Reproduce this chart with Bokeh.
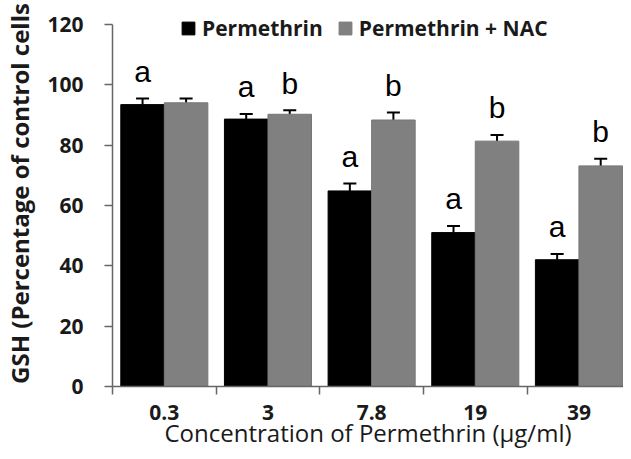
from bokeh.plotting import figure
from bokeh.models import ColumnDataSource, Range1d, FixedTicker, Whisker, TeeHead, Legend, LegendItem
from bokeh.core.properties import value
from bokeh.embed import file_html
from bokeh.resources import INLINE

concentrations = ["0.3", "3", "7.8", "19", "39"]
perm_mean = [93.4, 88.6, 64.8, 51.0, 42.0]
perm_err = [2.0, 1.7, 2.5, 2.2, 1.9]
nac_mean = [94.0, 90.2, 88.3, 81.3, 73.1]
nac_err = [1.4, 1.3, 2.5, 2.0, 2.4]
perm_letters = ["a", "a", "a", "a", "a"]
nac_letters = ["", "b", "b", "b", "b"]

FONT = "Open Sans"
BAR_W = 0.42
LETTER_GAP = 9.0

idx = list(range(len(concentrations)))
centers = [i + 0.5 for i in idx]
x_perm = [c - BAR_W / 2 for c in centers]
x_nac = [c + BAR_W / 2 for c in centers]

src_p = ColumnDataSource(dict(
    x=x_perm, top=perm_mean, upper=[m + e for m, e in zip(perm_mean, perm_err)],
    ty=[m + e + LETTER_GAP for m, e in zip(perm_mean, perm_err)], lab=perm_letters))
src_n = ColumnDataSource(dict(
    x=x_nac, top=nac_mean, upper=[m + e for m, e in zip(nac_mean, nac_err)],
    ty=[m + e + LETTER_GAP for m, e in zip(nac_mean, nac_err)], lab=nac_letters))

p = figure(width=623, height=451, output_backend="svg", toolbar_location=None,
           x_range=Range1d(0, 4.93), y_range=Range1d(0, 127.9),
           min_border_left=112, min_border_right=0, min_border_top=0, min_border_bottom=62)
p.outline_line_color = None
p.xgrid.grid_line_color = None
p.ygrid.grid_line_color = None
p.background_fill_color = "white"

r1 = p.vbar(x="x", top="top", width=BAR_W, source=src_p, fill_color="#000000", line_color="#000000")
r2 = p.vbar(x="x", top="top", width=BAR_W, source=src_n, fill_color="#808080", line_color="#777777")

for src in (src_p, src_n):
    w = Whisker(base="x", upper="upper", lower="top", source=src, line_color="black", line_width=2,
                upper_head=TeeHead(size=13, line_color="black", line_width=2), lower_head=None)
    p.add_layout(w)
    p.text(x="x", y="ty", text="lab", source=src, text_align="center", text_baseline="alphabetic",
           text_font=value("Liberation Sans"), text_font_size="30px", text_color="black")

# y axis
ya = p.yaxis[0]
ya.ticker = FixedTicker(ticks=[0, 20, 40, 60, 80, 100, 120])
ya.bounds = (0, 120)
ya.axis_line_color = "#666666"
ya.axis_line_width = 1.5
ya.major_tick_line_color = "#666666"
ya.major_tick_line_width = 1.5
ya.major_tick_out = 8
ya.major_tick_in = 0
ya.minor_tick_line_color = None
ya.major_label_standoff = 21
ya.major_label_text_font = FONT
ya.major_label_text_font_style = "bold"
ya.major_label_text_font_size = "21px"
ya.major_label_text_color = "#1a1a1a"
ya.axis_label = "GSH (Percentage of control cells"
ya.axis_label_text_font = FONT
ya.axis_label_text_font_style = "bold"
ya.axis_label_text_font_size = "24px"
ya.axis_label_text_color = "#1a1a1a"
ya.axis_label_standoff = 8

# x axis
xa = p.xaxis[0]
xa.ticker = FixedTicker(ticks=centers, minor_ticks=[0, 1, 2, 3, 4, 5])
xa.major_label_overrides = {c: lab for c, lab in zip(centers, concentrations)}
xa.axis_line_color = "#666666"
xa.axis_line_width = 1.5
xa.major_tick_line_color = None
xa.major_tick_out = 0
xa.major_tick_in = 0
xa.minor_tick_line_color = "#666666"
xa.minor_tick_line_width = 1.5
xa.minor_tick_out = 8
xa.minor_tick_in = 0
xa.major_label_standoff = 10
xa.major_label_text_font = FONT
xa.major_label_text_font_style = "bold"
xa.major_label_text_font_size = "21px"
xa.major_label_text_color = "#1a1a1a"
xa.axis_label = "Concentration of Permethrin (µg/ml)"
xa.axis_label_text_font = FONT
xa.axis_label_text_font_style = "normal"
xa.axis_label_text_font_size = "24px"
xa.axis_label_text_color = "#1a1a1a"
xa.axis_label_standoff = -7

legend = Legend(items=[LegendItem(label="Permethrin", renderers=[r1]),
                       LegendItem(label="Permethrin + NAC", renderers=[r2])],
                location=(68, 344), orientation="horizontal",
                glyph_width=16, glyph_height=16, label_standoff=6, spacing=14,
                padding=0, margin=0, border_line_alpha=0, background_fill_alpha=0,
                label_text_font=FONT, label_text_font_style="bold", label_text_font_size="21px",
                label_text_color="#1a1a1a")
p.add_layout(legend)

open("out.html", "w").write(file_html(p, INLINE))
